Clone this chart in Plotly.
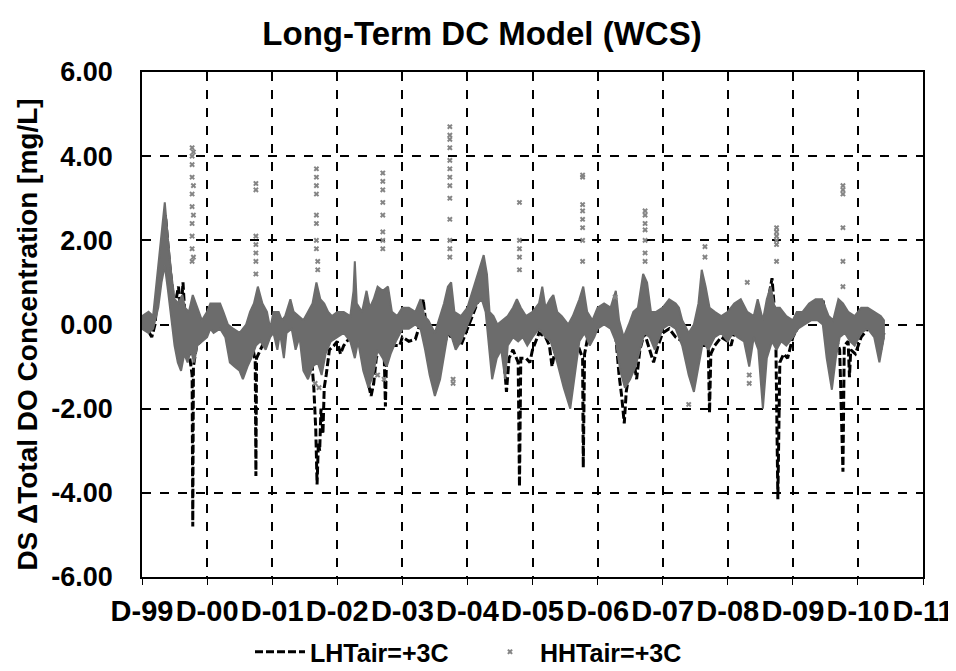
import plotly.graph_objects as go

# x values are years after Dec-1999 (tick "D-99" = 0)
tick_labels = ["D-99", "D-00", "D-01", "D-02", "D-03", "D-04", "D-05",
               "D-06", "D-07", "D-08", "D-09", "D-10", "D-11"]
y_ticks = [-6, -4, -2, 0, 2, 4, 6]
y_tick_labels = ["-6.00", "-4.00", "-2.00", "0.00", "2.00", "4.00", "6.00"]

# LHTair=+3C (black dashed series)
lh_t = [0.00, 0.08, 0.15, 0.20, 0.30, 0.36, 0.42, 0.50, 0.56, 0.60, 0.63, 0.66, 0.70, 0.74,
        0.77, 0.78, 0.79, 0.84, 0.90, 0.95, 1.00, 1.10, 1.20, 1.30, 1.40, 1.50, 1.60, 1.70,
        1.74, 1.75, 1.76, 1.82, 1.90, 2.00, 2.10, 2.20, 2.30, 2.40, 2.50, 2.60, 2.64, 2.67,
        2.69, 2.71, 2.73, 2.75, 2.78, 2.80, 2.83, 2.88, 2.95, 3.00, 3.05, 3.10, 3.20, 3.27,
        3.35, 3.45, 3.52, 3.56, 3.60, 3.66, 3.72, 3.74, 3.76, 3.82, 3.90, 3.96, 4.00, 4.10,
        4.20, 4.27, 4.32, 4.36, 4.42, 4.50, 4.55, 4.62, 4.70, 4.80, 4.90, 5.00, 5.10, 5.18,
        5.25, 5.30, 5.35, 5.40, 5.45, 5.55, 5.60, 5.64, 5.70, 5.78, 5.80, 5.82, 5.90, 5.96,
        6.00, 6.10, 6.20, 6.26, 6.30, 6.36, 6.42, 6.50, 6.60, 6.70, 6.77, 6.78, 6.80, 6.85,
        6.95, 7.00, 7.10, 7.20, 7.28, 7.33, 7.37, 7.41, 7.44, 7.48, 7.55, 7.60, 7.65, 7.72,
        7.80, 7.86, 7.93, 8.00, 8.10, 8.20, 8.30, 8.40, 8.50, 8.60, 8.70, 8.72, 8.74, 8.80,
        8.90, 9.00, 9.05, 9.10, 9.20, 9.30, 9.40, 9.50, 9.58, 9.64, 9.68, 9.71, 9.74, 9.77,
        9.80, 9.86, 9.92, 10.00, 10.10, 10.20, 10.30, 10.40, 10.46, 10.50, 10.58, 10.66,
        10.72, 10.77, 10.79, 10.85, 10.87, 10.89, 10.96, 11.05, 11.15, 11.25, 11.35, 11.40]
lh_v = [0.0, -0.1, -0.3, 0.0, 1.8, 2.6, 1.5, 0.4, 0.9, 0.3, 1.0, 0.2, -0.4, -0.8,
        -1.2, -4.8, -1.0, -0.5, -0.4, -0.2, 0.0, 0.1, 0.0, -0.2, -0.5, -0.8, -0.7, -0.5,
        -0.9, -3.6, -0.8, -0.6, -0.3, 0.0, -0.1, 0.0, 0.1, -0.3, -0.5, -0.7, -1.5, -2.5,
        -3.8, -2.8, -3.0, -2.0, -2.6, -1.5, -1.2, -0.6, -0.5, -0.4, -0.7, -0.5, -0.3, -0.2,
        -0.5, -1.2, -1.7, -1.4, -0.8, -0.5, -0.6, -1.95, -0.6, -0.5, -0.5, -0.5, -0.3, -0.4,
        -0.35, 0.0, 0.6, 0.0, -0.8, -1.4, -1.0, -0.6, -0.2, -0.4, -0.5, -0.1, 0.3, 0.6,
        0.9, 0.5, -0.3, -0.2, -0.3, -0.6, -1.6, -0.8, -0.6, -0.9, -3.85, -0.8, -0.8, -0.9,
        -0.6, -0.2, -0.3, -0.5, -1.0, -0.5, -0.4, -0.6, -0.7, -0.5, -0.8, -3.4, -0.7, -0.3,
        -0.2, 0.0, 0.0, 0.1, -0.3, -1.2, -1.7, -2.35, -1.6, -1.2, -0.8, -1.3, -0.6, -0.2,
        -0.6, -0.9, -0.5, -0.2, -0.1, -0.3, -0.4, -0.3, -0.6, -0.5, -0.5, -2.1, -0.7, -0.5,
        -0.3, -0.4, -0.5, -0.2, -0.2, -0.1, -0.2, -0.3, 0.2, 0.8, 1.1, 0.5, -0.5, -4.15,
        -0.9, -0.7, -0.8, -0.3, 0.0, 0.3, 0.4, 0.5, 0.6, 0.2, -0.5, -0.3,
        -0.6, -3.5, -0.5, -0.4, -1.25, -0.6, -0.7, -0.3, -0.1, -0.2, -0.6, -0.2]

# HHTair=+3C (grey markers): upper and lower edge of the dense band
hh_top_t = [0.00, 0.10, 0.17, 0.25, 0.30, 0.35, 0.40, 0.45, 0.50, 0.56, 0.62, 0.66, 0.72, 0.78,
            0.85, 0.92, 1.00, 1.05, 1.10, 1.20, 1.25, 1.32, 1.40, 1.50, 1.60, 1.66, 1.72, 1.78,
            1.85, 1.92, 1.97, 2.02, 2.10, 2.15, 2.20, 2.28, 2.33, 2.40, 2.48, 2.55, 2.62, 2.68,
            2.74, 2.80, 2.86, 2.92, 3.00, 3.10, 3.20, 3.25, 3.27, 3.30, 3.38, 3.45, 3.50, 3.56,
            3.62, 3.70, 3.78, 3.84, 3.92, 4.00, 4.10, 4.20, 4.28, 4.34, 4.40, 4.50, 4.58, 4.64,
            4.70, 4.75, 4.80, 4.90, 5.00, 5.06, 5.12, 5.18, 5.25, 5.30, 5.34, 5.40, 5.46, 5.54,
            5.62, 5.70, 5.76, 5.82, 5.90, 6.00, 6.10, 6.15, 6.20, 6.27, 6.32, 6.38, 6.45, 6.55,
            6.62, 6.72, 6.78, 6.84, 6.92, 7.00, 7.10, 7.20, 7.28, 7.33, 7.40, 7.48, 7.55, 7.62,
            7.70, 7.76, 7.82, 7.90, 8.00, 8.10, 8.20, 8.25, 8.30, 8.40, 8.48, 8.55, 8.60, 8.66,
            8.72, 8.80, 8.90, 9.00, 9.10, 9.20, 9.30, 9.40, 9.46, 9.54, 9.60, 9.66, 9.72, 9.80,
            9.90, 10.00, 10.06, 10.15, 10.25, 10.35, 10.45, 10.50, 10.55, 10.62, 10.70, 10.77,
            10.85, 10.95, 11.05, 11.15, 11.25, 11.35, 11.40]
hh_top_v = [0.2, 0.3, 0.2, 1.4, 2.2, 2.9, 2.0, 1.2, 0.6, 0.5, 0.7, 0.4, 0.3, 0.7,
            0.4, 0.1, 0.3, 0.5, 0.5, 0.5, 0.3, 0.0, -0.1, -0.2, 0.0, 0.3, 0.5, 0.9,
            0.5, 0.3, -0.1, 0.3, 0.3, 0.1, 0.2, 0.6, 0.3, 0.2, 0.1, 0.3, 0.5, 1.0,
            0.6, 0.5, 0.3, 0.2, 0.3, 0.3, 0.2, 0.8, 1.5, 0.5, 0.3, 0.8, 0.4, 0.6,
            0.9, 0.8, 0.9, 0.3, 0.2, 0.4, 0.4, 0.3, 0.6, 0.2, 0.1, -0.2, 0.2, 0.5,
            0.9, 1.0, 0.3, 0.2, 0.4, 0.7, 1.0, 1.3, 1.65, 1.2, 0.3, 0.2, 0.0, 0.1,
            0.2, 0.4, 0.6, 0.4, 0.2, 0.3, 0.5, 0.9, 0.4, 0.6, 0.7, 0.3, 0.2, 0.0,
            0.2, 0.6, 0.9, 0.3, 0.1, 0.4, 0.5, 0.4, 0.8, 0.1, -0.3, 0.0, 0.3, 0.4,
            1.2, 1.0, 0.3, 0.3, 0.4, 0.6, 0.5, 0.4, 0.1, -0.2, 0.0, 0.5, 1.3, 0.9,
            0.4, 0.3, 0.2, 0.3, 0.5, 0.6, 0.3, 0.2, 0.6, 0.1, 0.6, 0.9, 0.4, 0.4,
            0.2, 0.1, 0.3, 0.3, 0.5, 0.6, 0.6, 0.4, 0.2, 0.1, 0.6, 0.5,
            0.3, 0.2, 0.4, 0.4, 0.3, 0.2, 0.1]
hh_bot_t = [0.00, 0.10, 0.17, 0.25, 0.30, 0.35, 0.40, 0.45, 0.50, 0.55, 0.60, 0.65, 0.70, 0.75,
            0.80, 0.85, 0.92, 1.00, 1.05, 1.10, 1.20, 1.28, 1.35, 1.42, 1.50, 1.55, 1.62, 1.68,
            1.75, 1.82, 1.90, 1.97, 2.02, 2.08, 2.12, 2.18, 2.22, 2.30, 2.36, 2.42, 2.48, 2.55,
            2.62, 2.70, 2.76, 2.82, 2.90, 3.00, 3.10, 3.20, 3.27, 3.32, 3.40, 3.48, 3.55, 3.62,
            3.70, 3.76, 3.82, 3.90, 4.00, 4.10, 4.20, 4.28, 4.35, 4.42, 4.50, 4.58, 4.64, 4.70,
            4.76, 4.82, 4.90, 5.00, 5.08, 5.15, 5.22, 5.28, 5.33, 5.38, 5.45, 5.52, 5.58, 5.62,
            5.70, 5.78, 5.85, 5.92, 6.00, 6.10, 6.20, 6.28, 6.38, 6.48, 6.58, 6.65, 6.72, 6.80,
            6.88, 6.95, 7.00, 7.10, 7.20, 7.28, 7.35, 7.42, 7.50, 7.58, 7.65, 7.72, 7.80, 7.88,
            7.95, 8.00, 8.10, 8.20, 8.30, 8.40, 8.48, 8.55, 8.62, 8.70, 8.80, 8.90, 9.00, 9.08,
            9.15, 9.25, 9.33, 9.40, 9.47, 9.54, 9.60, 9.68, 9.75, 9.82, 9.90, 10.00, 10.08,
            10.18, 10.28, 10.38, 10.46, 10.52, 10.60, 10.66, 10.72, 10.80, 10.88, 10.95, 11.05,
            11.15, 11.25, 11.33, 11.40]
hh_bot_v = [-0.1, -0.2, -0.1, 0.4, 1.0, 1.4, 0.8, 0.2, -0.5, -0.9, -1.1, -0.7, -0.9, -0.6,
            -0.9, -0.5, -0.4, -0.3, -0.1, -0.2, -0.1, -0.3, -0.9, -1.0, -1.1, -1.3, -1.0, -0.8,
            -0.5, -0.4, -0.6, -0.3, -0.2, -0.6, -0.2, -0.8, -0.2, -0.1, -0.6, -0.3, -1.1, -1.3,
            -1.0, -0.9, -1.2, -0.7, -0.4, -0.3, -0.2, -0.4, -0.8, -0.4, -1.1, -1.5, -1.2, -0.6,
            -0.8, -1.0, -0.7, -0.4, -0.1, -0.1, 0.0, -0.1, -0.6, -1.2, -1.7, -1.3, -0.8, -0.2,
            -0.3, -0.6, -0.4, 0.0, 0.3, 0.5, 0.6, 0.3, -0.5, -1.3, -0.8, -0.6, -1.3, -0.5,
            -0.3, -0.4, -0.3, -0.5, -0.3, -0.1, -0.3, -0.4, -0.9, -1.5, -2.0, -1.2, -0.4, -0.2,
            -0.5, -0.3, -0.1, 0.0, -0.1, -0.4, -1.1, -1.5, -1.3, -1.0, -0.6, -0.2, -0.3, -0.6,
            -0.3, -0.1, 0.0, -0.1, -0.5, -1.2, -1.6, -1.0, -0.4, -0.6, -0.3, -0.2, -0.4, -0.2,
            -0.3, -0.4, -1.0, -0.3, -0.6, -2.0, -0.8, -0.4, -0.6, -0.4, -0.5, -0.3, -0.1,
            0.0, 0.1, 0.1, 0.0, -0.8, -1.55, -0.8, -0.3, -0.2, -0.4, -0.5, -0.2,
            -0.1, -0.3, -0.9, -0.3]

# scattered HHTair=+3C points outside the band
hh_pts_t = [0.77, 0.77, 0.77, 0.77, 0.77, 0.77, 0.77, 0.77, 0.77, 0.77, 0.79, 0.79, 0.79, 0.79,
            1.75, 1.75, 1.75, 1.75, 1.75, 1.75, 1.75,
            2.68, 2.68, 2.68, 2.68, 2.68, 2.68, 2.68, 2.68, 2.70, 2.70, 2.66, 2.72,
            3.70, 3.70, 3.70, 3.70, 3.70, 3.70, 3.70, 3.70, 3.72, 3.62,
            4.73, 4.73, 4.73, 4.73, 4.73, 4.73, 4.73, 4.73, 4.73, 4.73, 4.73, 4.73, 4.73, 4.78, 4.78,
            5.80, 5.80, 5.80, 5.80, 5.80,
            6.77, 6.77, 6.77, 6.77, 6.77, 6.77, 6.77, 6.77,
            7.73, 7.73, 7.73, 7.73, 7.73, 7.73, 7.73, 7.27,
            8.65, 8.65, 8.40, 9.30, 9.33, 9.33,
            9.75, 9.75, 9.75, 9.75, 9.75, 9.75,
            10.77, 10.77, 10.77, 10.77, 10.77, 10.77]
hh_pts_v = [4.2, 4.0, 3.8, 3.5, 3.1, 2.8, 2.4, 2.1, 1.8, 1.5, 4.1, 3.3, 2.6, 1.6,
            3.35, 3.2, 2.1, 1.9, 1.7, 1.5, 1.2,
            3.7, 3.5, 3.3, 3.1, 2.6, 2.4, 2.0, 1.8, 1.5, 1.3, -1.4, -1.5,
            3.6, 3.4, 3.2, 2.9, 2.6, 2.2, 2.0, 1.8, -1.3, -1.2,
            4.7, 4.5, 4.4, 4.2, 3.9, 3.7, 3.5, 3.3, 3.0, 2.5, 2.0, 1.8, 1.6, -1.3, -1.4,
            2.9, 2.0, 1.8, 1.6, 1.3,
            3.55, 3.5, 2.85, 2.7, 2.5, 2.3, 2.0, 1.5,
            2.7, 2.6, 2.4, 2.25, 2.0, 1.7, 1.5, 0.65,
            1.85, 1.6, -1.9, 1.0, -1.2, -1.4,
            2.3, 2.2, 2.1, 2.0, 1.9, 1.5,
            3.3, 3.2, 3.1, 2.3, 1.5, 0.9]

FONT = "Liberation Sans, Arial, sans-serif"
GREY = "#6c6c6c"

fig = go.Figure()

# black series first so grey band sits on top of it
fig.add_trace(
    go.Scatter(
        x=lh_t,
        y=lh_v,
        mode="lines",
        name="LHTair=+3C",
        legend="legend",
        line=dict(color="black", width=3, dash="8px,3px"),
    )
)

# dense grey points drawn as a filled band
fig.add_trace(
    go.Scatter(
        x=hh_top_t + hh_bot_t[::-1],
        y=hh_top_v + hh_bot_v[::-1],
        mode="lines",
        fill="toself",
        fillcolor=GREY,
        line=dict(color=GREY, width=2),
        showlegend=False,
        hoverinfo="skip",
    )
)

fig.add_trace(
    go.Scatter(
        x=hh_pts_t,
        y=hh_pts_v,
        mode="markers",
        name="HHTair=+3C",
        legend="legend2",
        marker=dict(symbol="x", size=5, color="#858585", line=dict(width=0)),
    )
)

# page body adds an 8px offset, so the figure is sized to fit the window
legend_font = dict(family=FONT, size=25, color="black", weight="bold")
legend_y = (577 - 652) / 505
fig.update_layout(
    width=948,
    height=663,
    margin=dict(l=134, r=33, t=64, b=94, autoexpand=False),
    paper_bgcolor="white",
    plot_bgcolor="white",
    font=dict(family=FONT, color="black", weight="bold"),
    title=dict(
        text="Long-Term DC Model (WCS)",
        x=0.5,
        xref="container",
        xanchor="center",
        y=1 - 25 / 663,
        yanchor="middle",
        font=dict(family=FONT, size=33, color="black", weight="bold"),
    ),
    legend=dict(
        orientation="h",
        x=(250 - 142) / 781,
        xanchor="left",
        y=legend_y,
        yanchor="middle",
        itemwidth=50,
        font=legend_font,
        bgcolor="rgba(0,0,0,0)",
    ),
    legend2=dict(
        orientation="h",
        x=(480 - 142) / 781,
        xanchor="left",
        y=legend_y,
        yanchor="middle",
        itemwidth=50,
        font=legend_font,
        bgcolor="rgba(0,0,0,0)",
    ),
    showlegend=True,
)

fig.update_xaxes(
    range=[0, 12],
    tickvals=list(range(len(tick_labels))),
    ticktext=tick_labels,
    ticks="outside",
    ticklen=6,
    tickcolor="black",
    ticklabelstandoff=1,
    tickfont=dict(family=FONT, size=29, color="black", weight="bold"),
    showline=True,
    linecolor="black",
    linewidth=1.5,
    mirror=True,
    showgrid=True,
    gridcolor="black",
    gridwidth=1.5,
    griddash="dash",
    zeroline=False,
    automargin=False,
)

fig.update_yaxes(
    range=[-6, 6],
    tickvals=y_ticks,
    ticktext=y_tick_labels,
    ticks="",
    ticklabelstandoff=22,
    tickfont=dict(family=FONT, size=27, color="black", weight="bold"),
    showline=True,
    linecolor="black",
    linewidth=1.5,
    mirror=True,
    showgrid=True,
    gridcolor="black",
    gridwidth=1.5,
    griddash="dash",
    zeroline=False,
    automargin=False,
)

fig.add_annotation(
    text="DS \u0394Total DO Concentration [mg/L]",
    xref="paper",
    yref="paper",
    x=(28 - 142) / 781,
    xanchor="center",
    y=0.48,
    yanchor="middle",
    textangle=-90,
    showarrow=False,
    font=dict(family=FONT, size=28, color="black", weight="bold"),
)

fig.write_html("out.html")
